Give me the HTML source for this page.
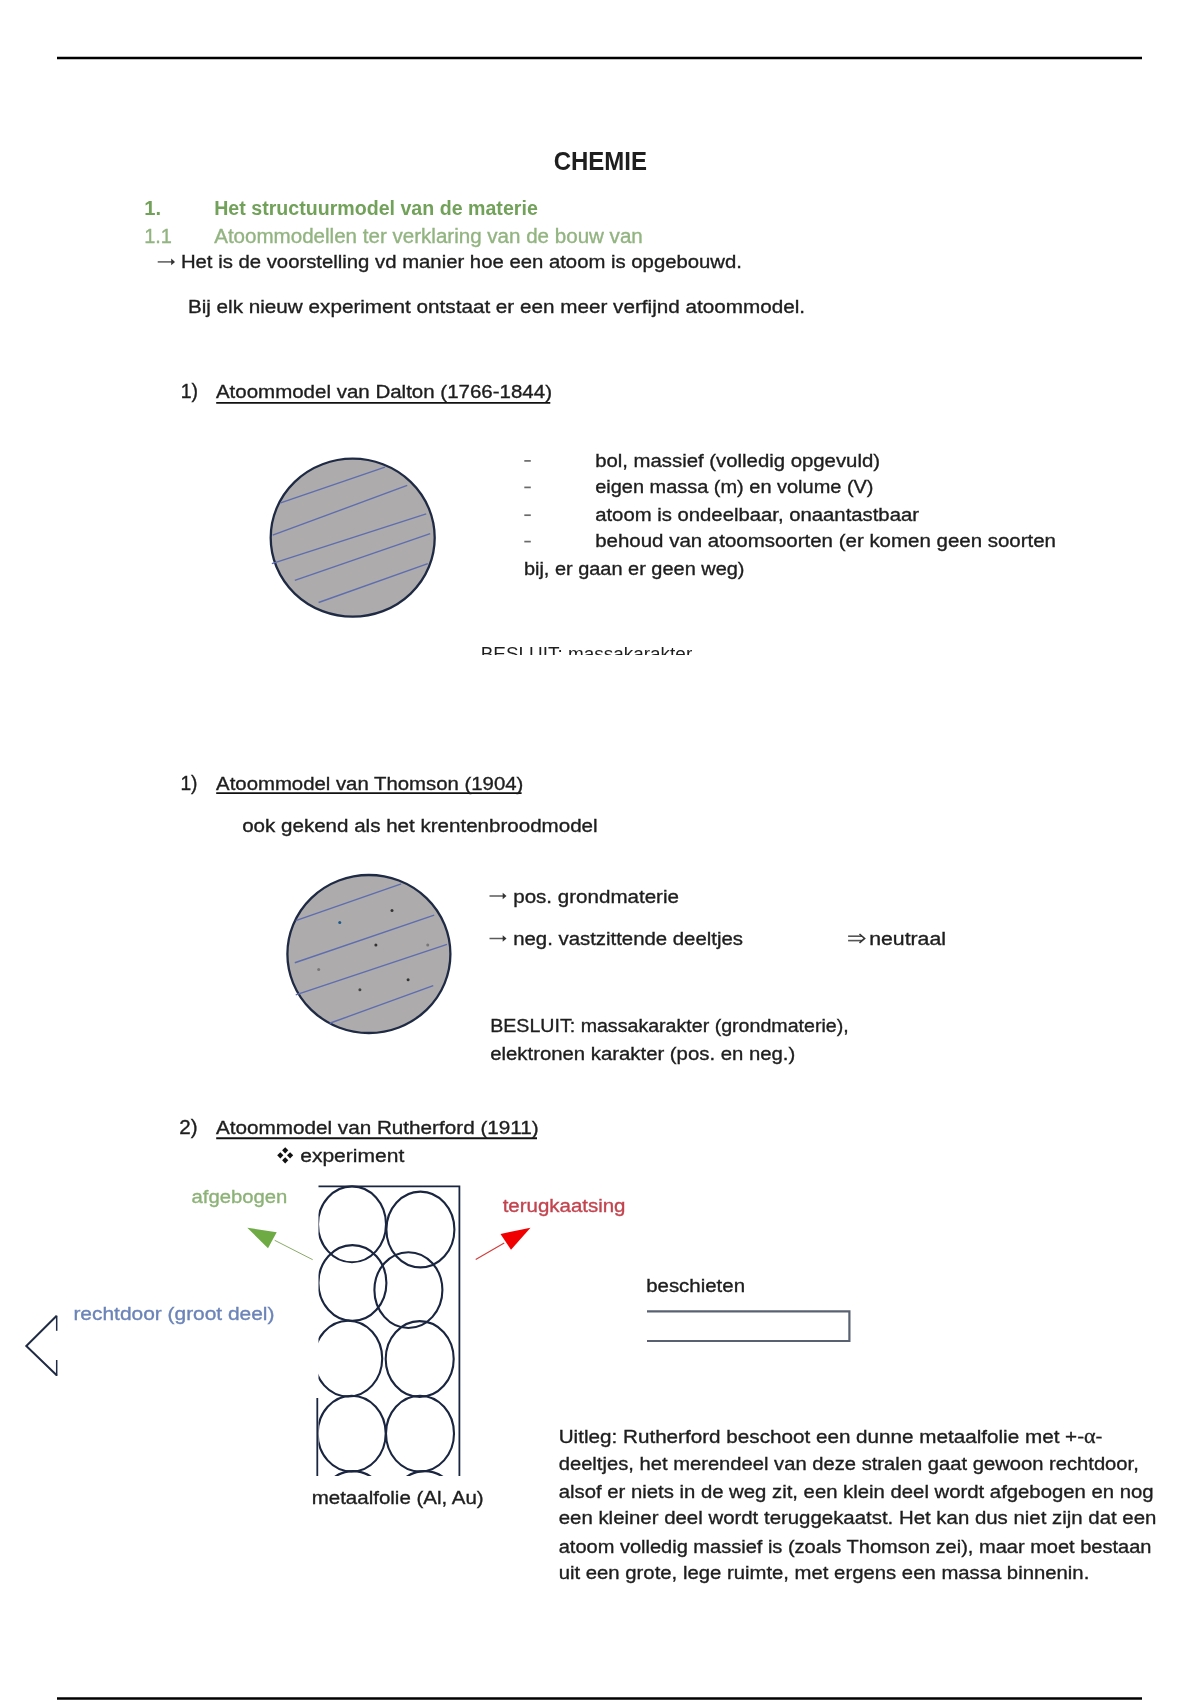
<!DOCTYPE html>
<html><head><meta charset="utf-8"><style>
html,body{margin:0;padding:0;background:#fff;}
svg{display:block;filter:blur(0.45px);}
text{font-family:"Liberation Sans", sans-serif;white-space:pre;}
</style></head><body>
<svg width="1200" height="1700" viewBox="0 0 1200 1700">
<rect width="1200" height="1700" fill="#fff"/>
<line x1="57" y1="58" x2="1142" y2="58" stroke="#000" stroke-width="2.4"/>
<line x1="57" y1="1698.5" x2="1142" y2="1698.5" stroke="#000" stroke-width="2.6"/>
<line x1="524.3" y1="460.9" x2="530.8" y2="460.9" stroke="#6a6a6a" stroke-width="1.7"/>
<line x1="524.3" y1="487.4" x2="530.8" y2="487.4" stroke="#6a6a6a" stroke-width="1.7"/>
<line x1="524.3" y1="515.1999999999999" x2="530.8" y2="515.1999999999999" stroke="#6a6a6a" stroke-width="1.7"/>
<line x1="524.3" y1="541.6" x2="530.8" y2="541.6" stroke="#6a6a6a" stroke-width="1.7"/>
<line x1="216.2" y1="402.9" x2="550.3" y2="402.9" stroke="#111" stroke-width="1.9"/>
<line x1="216.2" y1="793.1" x2="521.6" y2="793.1" stroke="#111" stroke-width="1.9"/>
<line x1="216.2" y1="1138.3" x2="537" y2="1138.3" stroke="#111" stroke-width="1.9"/>
<ellipse cx="352.7" cy="537.7" rx="82" ry="79" fill="#adabab" stroke="#1f2a44" stroke-width="2.3"/>
<line x1="280.6" y1="502.8" x2="385" y2="467.2" stroke="#5d6db0" stroke-width="1.35"/>
<line x1="272.7" y1="535.2" x2="407.2" y2="485.4" stroke="#5d6db0" stroke-width="1.35"/>
<line x1="271.9" y1="563.7" x2="426.2" y2="513.9" stroke="#5d6db0" stroke-width="1.35"/>
<line x1="294.8" y1="580.4" x2="430.2" y2="533.7" stroke="#5d6db0" stroke-width="1.35"/>
<line x1="318.6" y1="602.5" x2="427.8" y2="563.7" stroke="#5d6db0" stroke-width="1.35"/>
<ellipse cx="368.9" cy="954" rx="81.5" ry="79" fill="#adabab" stroke="#1f2a44" stroke-width="2.3"/>
<line x1="295.75" y1="920.6" x2="401.2" y2="883.9" stroke="#5d6db0" stroke-width="1.35"/>
<line x1="294.8" y1="962.75" x2="434.2" y2="915.1" stroke="#5d6db0" stroke-width="1.35"/>
<line x1="295.75" y1="994.8" x2="447" y2="944.4" stroke="#5d6db0" stroke-width="1.35"/>
<line x1="329.7" y1="1023.25" x2="433.25" y2="985.7" stroke="#5d6db0" stroke-width="1.35"/>
<circle cx="392" cy="910.5" r="1.5" fill="#333"/>
<circle cx="339.75" cy="922.4" r="1.5" fill="#1d5a8a"/>
<circle cx="375.9" cy="945" r="1.5" fill="#333"/>
<circle cx="427.75" cy="945" r="1.5" fill="#777"/>
<circle cx="318.7" cy="969.5" r="1.5" fill="#777"/>
<circle cx="408.1" cy="979.8" r="1.5" fill="#333"/>
<circle cx="359.9" cy="989.7" r="1.5" fill="#444"/>
<path d="M285.2,1147.2 L288.3,1150.3 L285.2,1153.3999999999999 L282.09999999999997,1150.3 Z" fill="#111"/>
<path d="M280.3,1152.2 L283.40000000000003,1155.3 L280.3,1158.3999999999999 L277.2,1155.3 Z" fill="#111"/>
<path d="M290.1,1152.2 L293.20000000000005,1155.3 L290.1,1158.3999999999999 L287.0,1155.3 Z" fill="#111"/>
<path d="M285.2,1157.2 L288.3,1160.3 L285.2,1163.3999999999999 L282.09999999999997,1160.3 Z" fill="#111"/>
<line x1="157.7" y1="261.9" x2="173" y2="261.9" stroke="#5a5a5a" stroke-width="1.5"/>
<path d="M171.2,258.59999999999997 L175,261.9 L171.2,265.2 Z" fill="#333"/>
<line x1="489.5" y1="896" x2="504.5" y2="896" stroke="#5a5a5a" stroke-width="1.5"/>
<path d="M502.7,892.7 L506.5,896 L502.7,899.3 Z" fill="#333"/>
<line x1="489.5" y1="938.5" x2="504.5" y2="938.5" stroke="#5a5a5a" stroke-width="1.5"/>
<path d="M502.7,935.2 L506.5,938.5 L502.7,941.8 Z" fill="#333"/>
<line x1="848.1" y1="936.2" x2="862" y2="936.2" stroke="#555" stroke-width="1.6"/>
<line x1="848.1" y1="940.6" x2="862" y2="940.6" stroke="#555" stroke-width="1.6"/>
<path d="M859.5,934 L864.6,938.4 L859.5,942.8" fill="none" stroke="#333" stroke-width="1.6"/>
<defs><clipPath id="foil"><rect x="318.5" y="1100" width="200" height="376"/></clipPath></defs>
<g clip-path="url(#foil)" fill="none" stroke="#1a2540" stroke-width="2.1">
<ellipse cx="352" cy="1224.3" rx="34" ry="37.9"/>
<ellipse cx="420.4" cy="1229.5" rx="34" ry="37.9"/>
<ellipse cx="352.4" cy="1283" rx="34" ry="37.9"/>
<ellipse cx="408.4" cy="1290.1" rx="34" ry="37.9"/>
<ellipse cx="348.2" cy="1358.6" rx="34" ry="37.9"/>
<ellipse cx="419.7" cy="1359" rx="34" ry="37.9"/>
<ellipse cx="351.7" cy="1433.6" rx="34" ry="37.9"/>
<ellipse cx="420" cy="1433.6" rx="34" ry="37.9"/>
<ellipse cx="353" cy="1509" rx="34" ry="37.9"/>
<ellipse cx="424.7" cy="1509" rx="34" ry="37.9"/>
</g>
<polyline points="318.5,1186.3 459.4,1186.3 459.4,1476" fill="none" stroke="#1a2540" stroke-width="1.8"/>
<line x1="317.3" y1="1398" x2="317.3" y2="1476" stroke="#1a2540" stroke-width="1.8"/>
<line x1="274.7" y1="1240.3" x2="312.7" y2="1259.7" stroke="#8aab6a" stroke-width="1"/>
<polygon points="247.3,1227.7 276.7,1232.3 268,1248.3" fill="#6fab45"/>
<line x1="475.7" y1="1259.5" x2="504.2" y2="1243" stroke="#d23a3a" stroke-width="1.1"/>
<polygon points="500.5,1234 530.5,1227.7 511,1249.7" fill="#f00000"/>
<polyline points="56.7,1315.7 26.3,1346 56.7,1375.2" fill="none" stroke="#1f2a44" stroke-width="2"/>
<line x1="56.7" y1="1315.7" x2="56.7" y2="1330.8" stroke="#1f2a44" stroke-width="1.5"/>
<line x1="56.7" y1="1360" x2="56.7" y2="1376" stroke="#1f2a44" stroke-width="1.5"/>
<polyline points="647,1311.4 849.4,1311.4 849.4,1341 647,1341" fill="none" stroke="#5a6272" stroke-width="2.2"/>
<defs><clipPath id="bes"><rect x="400" y="600" width="400" height="55"/></clipPath></defs>
<text clip-path="url(#bes)" x="480.7" y="660" font-size="18.8" fill="#1e1e1e" textLength="211.5" lengthAdjust="spacingAndGlyphs">BESLUIT: massakarakter</text>
<text x="553.7" y="169.5" font-size="25" font-weight="bold" fill="#1e1e1e" stroke="#1e1e1e" stroke-width="0" textLength="93.3" lengthAdjust="spacingAndGlyphs">CHEMIE</text>
<text x="144.2" y="214.7" font-size="19.5" font-weight="bold" fill="#72a15a" stroke="#72a15a" stroke-width="0" textLength="16.8" lengthAdjust="spacingAndGlyphs">1.</text>
<text x="214.2" y="214.7" font-size="19.5" font-weight="bold" fill="#72a15a" stroke="#72a15a" stroke-width="0" textLength="323.6" lengthAdjust="spacingAndGlyphs">Het structuurmodel van de materie</text>
<text x="144.2" y="242.5" font-size="19.5" font-weight="normal" fill="#92b480" stroke="#92b480" stroke-width="0.35" textLength="27.8" lengthAdjust="spacingAndGlyphs">1.1</text>
<text x="214.2" y="242.5" font-size="19.5" font-weight="normal" fill="#92b480" stroke="#92b480" stroke-width="0.35" textLength="428.6" lengthAdjust="spacingAndGlyphs">Atoommodellen ter verklaring van de bouw van</text>
<text x="180.9" y="268.3" font-size="18.8" font-weight="normal" fill="#1e1e1e" stroke="#1e1e1e" stroke-width="0.35" textLength="561.1" lengthAdjust="spacingAndGlyphs">Het is de voorstelling vd manier hoe een atoom is opgebouwd.</text>
<text x="187.9" y="313.0" font-size="18.8" font-weight="normal" fill="#1e1e1e" stroke="#1e1e1e" stroke-width="0.35" textLength="617.1" lengthAdjust="spacingAndGlyphs">Bij elk nieuw experiment ontstaat er een meer verfijnd atoommodel.</text>
<text x="180.7" y="398.0" font-size="19.5" font-weight="normal" fill="#1e1e1e" stroke="#1e1e1e" stroke-width="0.35" textLength="17.3" lengthAdjust="spacingAndGlyphs">1)</text>
<text x="215.9" y="398.3" font-size="18.8" font-weight="normal" fill="#1e1e1e" stroke="#1e1e1e" stroke-width="0.35" textLength="336.1" lengthAdjust="spacingAndGlyphs">Atoommodel van Dalton (1766-1844)</text>
<text x="595.2" y="466.5" font-size="18.8" font-weight="normal" fill="#1e1e1e" stroke="#1e1e1e" stroke-width="0.35" textLength="284.8" lengthAdjust="spacingAndGlyphs">bol, massief (volledig opgevuld)</text>
<text x="595.2" y="493.0" font-size="18.8" font-weight="normal" fill="#1e1e1e" stroke="#1e1e1e" stroke-width="0.35" textLength="278.3" lengthAdjust="spacingAndGlyphs">eigen massa (m) en volume (V)</text>
<text x="595.2" y="520.8" font-size="18.8" font-weight="normal" fill="#1e1e1e" stroke="#1e1e1e" stroke-width="0.35" textLength="323.8" lengthAdjust="spacingAndGlyphs">atoom is ondeelbaar, onaantastbaar</text>
<text x="595.2" y="547.2" font-size="18.8" font-weight="normal" fill="#1e1e1e" stroke="#1e1e1e" stroke-width="0.35" textLength="460.8" lengthAdjust="spacingAndGlyphs">behoud van atoomsoorten (er komen geen soorten</text>
<text x="523.9" y="575.0" font-size="18.8" font-weight="normal" fill="#1e1e1e" stroke="#1e1e1e" stroke-width="0.35" textLength="220.6" lengthAdjust="spacingAndGlyphs">bij, er gaan er geen weg)</text>
<text x="180.4" y="789.6" font-size="19.5" font-weight="normal" fill="#1e1e1e" stroke="#1e1e1e" stroke-width="0.35" textLength="17.1" lengthAdjust="spacingAndGlyphs">1)</text>
<text x="216.1" y="790.0" font-size="18.8" font-weight="normal" fill="#1e1e1e" stroke="#1e1e1e" stroke-width="0.35" textLength="307.2" lengthAdjust="spacingAndGlyphs">Atoommodel van Thomson (1904)</text>
<text x="242.2" y="832.0" font-size="18.8" font-weight="normal" fill="#1e1e1e" stroke="#1e1e1e" stroke-width="0.35" textLength="355.4" lengthAdjust="spacingAndGlyphs">ook gekend als het krentenbroodmodel</text>
<text x="513.2" y="902.8" font-size="18.8" font-weight="normal" fill="#1e1e1e" stroke="#1e1e1e" stroke-width="0.35" textLength="165.8" lengthAdjust="spacingAndGlyphs">pos. grondmaterie</text>
<text x="513.2" y="944.8" font-size="18.8" font-weight="normal" fill="#1e1e1e" stroke="#1e1e1e" stroke-width="0.35" textLength="229.8" lengthAdjust="spacingAndGlyphs">neg. vastzittende deeltjes</text>
<text x="869.2" y="944.8" font-size="18.8" font-weight="normal" fill="#1e1e1e" stroke="#1e1e1e" stroke-width="0.35" textLength="76.8" lengthAdjust="spacingAndGlyphs">neutraal</text>
<text x="490.2" y="1031.7" font-size="18.8" font-weight="normal" fill="#1e1e1e" stroke="#1e1e1e" stroke-width="0.35" textLength="358.5" lengthAdjust="spacingAndGlyphs">BESLUIT: massakarakter (grondmaterie),</text>
<text x="490.2" y="1060.0" font-size="18.8" font-weight="normal" fill="#1e1e1e" stroke="#1e1e1e" stroke-width="0.35" textLength="305.1" lengthAdjust="spacingAndGlyphs">elektronen karakter (pos. en neg.)</text>
<text x="179.2" y="1134.3" font-size="19.5" font-weight="normal" fill="#1e1e1e" stroke="#1e1e1e" stroke-width="0.35" textLength="18.3" lengthAdjust="spacingAndGlyphs">2)</text>
<text x="215.9" y="1134.3" font-size="18.8" font-weight="normal" fill="#1e1e1e" stroke="#1e1e1e" stroke-width="0.35" textLength="322.8" lengthAdjust="spacingAndGlyphs">Atoommodel van Rutherford (1911)</text>
<text x="300.2" y="1162.3" font-size="18.8" font-weight="normal" fill="#1e1e1e" stroke="#1e1e1e" stroke-width="0.35" textLength="104.1" lengthAdjust="spacingAndGlyphs">experiment</text>
<text x="191.5" y="1203.3" font-size="18.8" font-weight="normal" fill="#8db277" stroke="#8db277" stroke-width="0.35" textLength="95.8" lengthAdjust="spacingAndGlyphs">afgebogen</text>
<text x="502.7" y="1211.5" font-size="18.8" font-weight="normal" fill="#c2444f" stroke="#c2444f" stroke-width="0.35" textLength="122.8" lengthAdjust="spacingAndGlyphs">terugkaatsing</text>
<text x="73.4" y="1320.3" font-size="18.8" font-weight="normal" fill="#6c84b8" stroke="#6c84b8" stroke-width="0.35" textLength="201.1" lengthAdjust="spacingAndGlyphs">rechtdoor (groot deel)</text>
<text x="646.2" y="1292.0" font-size="18.8" font-weight="normal" fill="#1e1e1e" stroke="#1e1e1e" stroke-width="0.35" textLength="98.8" lengthAdjust="spacingAndGlyphs">beschieten</text>
<text x="311.7" y="1504.2" font-size="18.8" font-weight="normal" fill="#1e1e1e" stroke="#1e1e1e" stroke-width="0.35" textLength="172.0" lengthAdjust="spacingAndGlyphs">metaalfolie (Al, Au)</text>
<text x="558.7" y="1443.0" font-size="18.8" font-weight="normal" fill="#1e1e1e" stroke="#1e1e1e" stroke-width="0.35" textLength="543.8" lengthAdjust="spacingAndGlyphs">Uitleg: Rutherford beschoot een dunne metaalfolie met +-<tspan font-family="Liberation Serif" font-size="20">α</tspan>-</text>
<text x="558.7" y="1469.5" font-size="18.8" font-weight="normal" fill="#1e1e1e" stroke="#1e1e1e" stroke-width="0.35" textLength="580.1" lengthAdjust="spacingAndGlyphs">deeltjes, het merendeel van deze stralen gaat gewoon rechtdoor,</text>
<text x="558.7" y="1497.5" font-size="18.8" font-weight="normal" fill="#1e1e1e" stroke="#1e1e1e" stroke-width="0.35" textLength="594.9" lengthAdjust="spacingAndGlyphs">alsof er niets in de weg zit, een klein deel wordt afgebogen en nog</text>
<text x="558.7" y="1524.3" font-size="18.8" font-weight="normal" fill="#1e1e1e" stroke="#1e1e1e" stroke-width="0.35" textLength="597.7" lengthAdjust="spacingAndGlyphs">een kleiner deel wordt teruggekaatst. Het kan dus niet zijn dat een</text>
<text x="558.7" y="1552.5" font-size="18.8" font-weight="normal" fill="#1e1e1e" stroke="#1e1e1e" stroke-width="0.35" textLength="592.8" lengthAdjust="spacingAndGlyphs">atoom volledig massief is (zoals Thomson zei), maar moet bestaan</text>
<text x="558.7" y="1578.8" font-size="18.8" font-weight="normal" fill="#1e1e1e" stroke="#1e1e1e" stroke-width="0.35" textLength="530.6" lengthAdjust="spacingAndGlyphs">uit een grote, lege ruimte, met ergens een massa binnenin.</text>
</svg>
</body></html>
